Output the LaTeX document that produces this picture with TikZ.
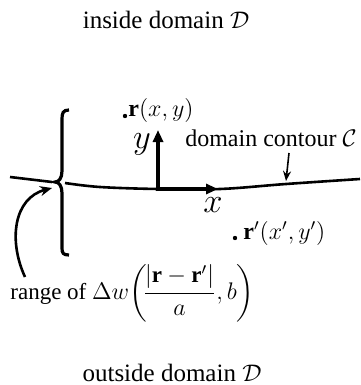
\documentclass[tikz,border=0pt]{standalone}
\usepackage{amsmath}
\usepackage{fontspec}
\setmainfont{Liberation Serif}
\usetikzlibrary{arrows.meta}

\begin{document}
\begin{tikzpicture}[x=0.5pt,y=-0.5pt,
        lbl/.style={font=\fontsize{12.5}{14}\selectfont, inner sep=0pt},
        rlbl/.style={font=\fontsize{11.5}{13}\selectfont, inner sep=0pt},
        mlbl/.style={font=\fontsize{12}{14}\selectfont, inner sep=0pt},
        axlbl/.style={font=\fontsize{16}{18}\selectfont, inner sep=0pt},
        pt/.style={circle, fill, inner sep=0pt, minimum size=2.2pt},
        axis/.style={line width=2.4pt, -{Triangle[length=6pt,width=5pt]}},
        contour/.style={line width=1.3pt}]
        \useasboundingbox (0,0) rectangle (360,385);

            \node[lbl] (in) at (166,20) {inside domain $\mathcal{D}$};
            \node[lbl] (out) at (172,373) {outside domain $\mathcal{D}$};

            % contour and brace
            \coordinate (c0) at (10,177);
            \coordinate (c1) at (52,182);
            \coordinate (c2) at (65,183);
            \coordinate (o) at (158,189);
            \coordinate (c3) at (286,184);
            \coordinate (c4) at (360,179);
            \coordinate (bt) at (55,182);
            \draw[contour] (c0) -- (c1);
            \draw[contour] plot[smooth, tension=0.6] coordinates {(c2) (100,187) (o) (220,189) (c3) (c4)};
            \draw[line width=1.6pt] (69,110) .. controls (63,110) and (62,113) .. (62,119) -- (62,171)
                .. controls (62,178) and (59,182) .. (bt)
                .. controls (59,182) and (62,186) .. (62,193) -- (62,248)
                .. controls (62,253) and (63,255) .. (69,255);

            % axes
            \coordinate (xt) at (218,189);
            \coordinate (yt) at (158,130);
            \draw[axis] (o) -- (xt);
            \draw[axis] ([yshift=-1pt]o) -- (yt);
            \node[axlbl] (xl) at (213,205) {$x$};
            \node[axlbl] (yl) at (142,144) {$y$};

            % points
            \node[pt] (r) at (125,116) {};
            \node[mlbl, anchor=base west] (rl) at (128,117) {$\mathbf{r}(x,y)$};
            \node[pt] (rp) at (235,238) {};
            \node[mlbl, anchor=base west] (rpl) at (243,239) {$\mathbf{r}'(x',y')$};

            \node[mlbl, anchor=east] (cl) at (357,138) {domain contour $\mathcal{C}$};
            \coordinate (cs) at (289,153);
            \coordinate (ce) at (286,181);
            \draw[line width=0.8pt, -{Stealth[length=5pt,width=4pt]}] (cs) -- (ce);

            \node[rlbl, anchor=west] (rg) at (10,293) {range of $\Delta w\!\left(\!\dfrac{|\mathbf{r}-\mathbf{r}'|}{a},b\right)$};
            \coordinate (rs) at (25,277);
            \draw[line width=1.3pt, -{Stealth[length=6pt,width=5pt]}] (rs) .. controls (8,240) and (14,198) .. (52,188);
        \end{tikzpicture}
\end{document}
